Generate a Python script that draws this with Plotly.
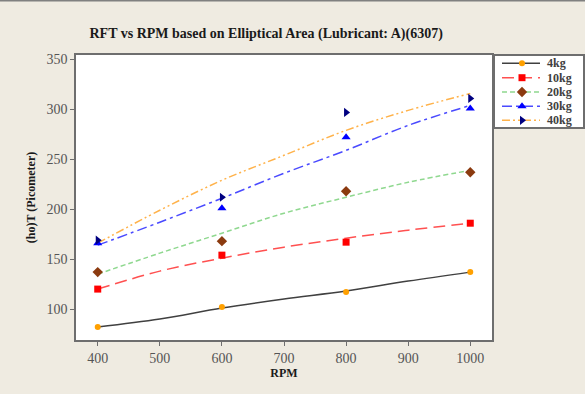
import plotly.graph_objects as go

rpm = [400, 600, 800, 1000]
fit_rpm = [400, 500, 600, 700, 800, 900, 1000]

series_names = ["4kg", "10kg", "20kg", "30kg", "40kg"]

pts_4kg = [82, 102, 117, 137]
pts_10kg = [120, 154, 167, 186]
pts_20kg = [137, 168, 218, 237]
pts_30kg = [166, 201, 272, 301]
pts_40kg = [169, 212, 297, 311]

fit_4kg = [82, 90, 101, 110, 118, 128, 137]
fit_10kg = [120, 138, 151, 162, 171, 179, 186]
fit_20kg = [135, 156, 176, 196, 212, 227, 239]
fit_30kg = [164, 187, 211, 236, 259, 284, 304]
fit_40kg = [166, 199, 229, 254, 279, 299, 316]

points = [pts_4kg, pts_10kg, pts_20kg, pts_30kg, pts_40kg]
fits = [fit_4kg, fit_10kg, fit_20kg, fit_30kg, fit_40kg]

line_colors = ["#404040", "#FF5050", "#8FD88F", "#4A4AFF", "#FFB24A"]
line_dash = ["solid", "12px,6px", "5px,3px", "10px,4px,3px,4px", "8px,3px,2px,3px,2px,3px"]
marker_colors = ["#FFA000", "#FF0000", "#8B3A0F", "#0000FF", "#000080"]
marker_symbols = ["circle", "square", "diamond", "triangle-up", "triangle-right"]
marker_sizes = [6, 7, 8, 8, 8]

W, H = 585, 394
L, R, T, B = 76, 2, 55, 54
pw = W - L - R
ph = H - T - B
plot_right = 492

fig = go.Figure()
for i, name in enumerate(series_names):
    fig.add_trace(go.Scatter(
        x=fit_rpm, y=fits[i], mode="lines", line_shape="spline",
        line=dict(color=line_colors[i], width=1.5, dash=line_dash[i]),
        showlegend=False, hoverinfo="skip"))
for i, name in enumerate(series_names):
    fig.add_trace(go.Scatter(
        x=rpm, y=points[i], mode="markers", name=name,
        marker=dict(color=marker_colors[i], symbol=marker_symbols[i], size=marker_sizes[i]),
        showlegend=False))

# custom legend drawn in an inset subplot (units: pixels inside the box)
leg_left, leg_right, leg_top, leg_bottom = 495, 583, 56, 127
leg_h = leg_bottom - leg_top
row_y = [7.3, 21.7, 36.0, 50.2, 64.3]
annotations = []
for i, name in enumerate(series_names):
    yy = leg_h - row_y[i]
    fig.add_trace(go.Scatter(
        x=[7, 45], y=[yy, yy], mode="lines", xaxis="x2", yaxis="y2",
        line=dict(color=line_colors[i], width=1.5, dash=line_dash[i]),
        showlegend=False, hoverinfo="skip"))
    fig.add_trace(go.Scatter(
        x=[27], y=[yy], mode="markers", xaxis="x2", yaxis="y2",
        marker=dict(color=marker_colors[i], symbol=marker_symbols[i], size=marker_sizes[i]),
        showlegend=False, hoverinfo="skip"))
    annotations.append(dict(
        x=50, y=yy, xref="x2", yref="y2", text="<b>" + name + "</b>", showarrow=False,
        xanchor="left", yanchor="middle",
        font=dict(family="Liberation Serif, DejaVu Serif, serif", size=12, color="#404040")))

serif = "Liberation Serif, DejaVu Serif, serif"
axis_common = dict(
    showline=True, linecolor="#6E6E6E", linewidth=1.5, mirror=True,
    ticks="outside", ticklen=4, tickcolor="#6E6E6E", showgrid=False, zeroline=False,
    tickfont=dict(family=serif, size=14, color="#555555"),
)

fig.update_layout(
    width=W, height=H,
    paper_bgcolor="#EFEBE1", plot_bgcolor="#FFFFFF",
    margin=dict(l=L, r=R, t=T, b=B, autoexpand=False),
    showlegend=False,
    title=dict(text="<b>RFT vs RPM based on Elliptical Area (Lubricant: A)(6307)</b>",
               x=0.455, xanchor="center", y=0.915, yanchor="middle",
               font=dict(family=serif, size=14, color="#1A1A1A")),
    xaxis=dict(domain=[0, (plot_right - L) / pw],
               range=[365, 1035], tickvals=[400, 500, 600, 700, 800, 900, 1000],
               title=dict(text="<b>RPM</b>", standoff=4,
                          font=dict(family=serif, size=12, color="#1A1A1A")),
               **axis_common),
    yaxis=dict(range=[69, 354.5], tickvals=[100, 150, 200, 250, 300, 350],
               title=dict(text="<b>(ho)T (Picometer)</b>", standoff=8,
                          font=dict(family=serif, size=12, color="#1A1A1A")),
               **axis_common),
    xaxis2=dict(domain=[(leg_left - L) / pw, (leg_right - L) / pw], range=[0, leg_right - leg_left],
                anchor="y2", showline=True, mirror=True, linecolor="#6E6E6E", linewidth=1.5,
                showticklabels=False, ticks="", showgrid=False, zeroline=False, fixedrange=True),
    yaxis2=dict(domain=[(H - B - leg_bottom) / ph, (H - B - leg_top) / ph], range=[0, leg_h],
                anchor="x2", showline=True, mirror=True, linecolor="#6E6E6E", linewidth=1.5,
                showticklabels=False, ticks="", showgrid=False, zeroline=False, fixedrange=True),
    annotations=annotations,
    shapes=[dict(type="line", xref="paper", yref="paper", x0=-0.2, x1=1.2,
                 y0=1 + (T - 0.5) / ph, y1=1 + (T - 0.5) / ph,
                 line=dict(color="#808080", width=2))],
)

fig.write_html("out.html")
